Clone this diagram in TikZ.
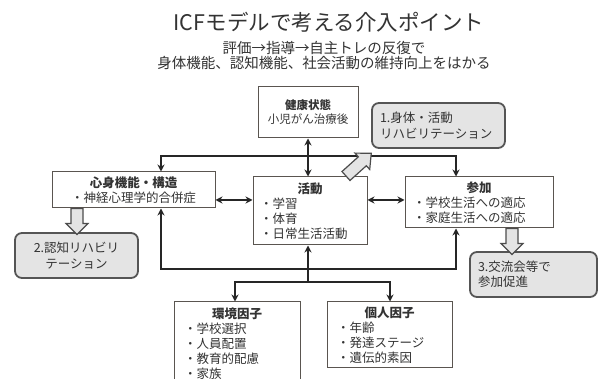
\documentclass[tikz,border=0pt]{standalone}
\usepackage{fontspec}
\setmainfont{Noto Sans CJK JP}
\usetikzlibrary{arrows.meta}
\definecolor{txt}{HTML}{333333}
\definecolor{boxc}{HTML}{5A5550}
\definecolor{rbc}{HTML}{555555}
\definecolor{rbf}{HTML}{E4E4E4}
\tikzset{
  box/.style={draw=boxc, line width=1pt, fill=white, text=txt, inner sep=0pt,
    font=\fontsize{12.5}{15}\selectfont},
  rbox/.style={draw=rbc, line width=1.8pt, fill=rbf, rounded corners=7pt, text=txt,
    inner sep=0pt, font=\fontsize{12.5}{15.5}\selectfont},
  conn/.style={line width=1.7pt, draw=black!85},
  tip/.tip={Stealth[length=7pt,width=7pt]},
  harrowA/.pic={\draw[fill=rbf, draw=black!70, line width=1.2pt]
    (0,-6) -- (15,-6) -- (15,-11) -- (26,0) -- (15,11) -- (15,6) -- (0,6) -- cycle;},
  harrowB/.pic={\draw[fill=rbf, draw=black!70, line width=1.2pt]
    (0,-6) -- (22,-6) -- (22,-11) -- (34,0) -- (22,11) -- (22,6) -- (0,6) -- cycle;}
}
\begin{document}
\begin{tikzpicture}[x=1pt,y=-1pt]
\useasboundingbox[fill=white] (0,0) rectangle (598,379);
% titles
\node[text=txt, font=\fontsize{21.5}{21.5}\selectfont] (title) at (329,22) {ICFモデルで考える介入ポイント};
\node[text=txt, align=center, font=\fontsize{14.5}{15}\selectfont] (sub) at (324,56)
  {評価→指導→自主トレの反復で\\身体機能、認知機能、社会活動の維持向上をはかる};
% ICF boxes
\node[box, minimum width=100pt, minimum height=51pt, align=center,
  font=\fontsize{11.5}{14}\selectfont] (hc) at (308,112.5)
  {\textbf{健康状態}\\小児がん治療後};
\node[box, minimum width=163pt, minimum height=36pt, align=center] (mind) at (133.5,190)
  {\textbf{心身機能・構造}\\・神経心理学的合併症};
\node[box, minimum width=114pt, minimum height=68pt, text width=100pt, align=left] (act) at (310,211)
  {\makebox[\linewidth][c]{\textbf{活動}}\\・学習\\・体育\\・日常生活活動};
\node[box, minimum width=148pt, minimum height=51pt, text width=132pt, align=left] (part) at (479,202.5)
  {\makebox[\linewidth][c]{\textbf{参加}}\\・学校生活への適応\\・家庭生活への適応};
\node[box, minimum width=126pt, minimum height=83pt, text width=106pt, align=left] (env) at (237,343.5)
  {\makebox[\linewidth][c]{\textbf{環境因子}}\\・学校選択\\・人員配置\\・教育的配慮\\・家族};
\node[box, minimum width=125pt, minimum height=66pt, text width=105pt, align=left] (pers) at (389.5,335)
  {\makebox[\linewidth][c]{\textbf{個人因子}}\\・年齢\\・発達ステージ\\・遺伝的素因};
% rehab boxes
\node[rbox, minimum width=133pt, minimum height=45pt, text width=117pt, align=left] (r1) at (438.5,125.5)
  {1.身体・活動\\リハビリテーション};
\node[rbox, minimum width=123pt, minimum height=45pt, align=center] (r2) at (76.5,255.5)
  {2.認知リハビリ\\テーション};
\node[rbox, minimum width=127pt, minimum height=45pt, text width=111pt, align=left] (r3) at (533.5,274.5)
  {3.交流会等で\\参加促進};
% connector coordinates
\coordinate (tl) at (161,156);
\coordinate (tr) at (456,156);
\coordinate (bl) at (161,269);
\coordinate (br) at (456,269);
\coordinate (bm) at (308,282);
\coordinate (be) at (235,282);
\coordinate (bp) at (390,282);
\coordinate (y200) at (0,200);
% connectors
\draw[conn, tip-tip] (mind.north -| tl) -- (tl) -- (tr) -- (part.north -| tr);
\draw[conn, tip-tip] (hc.south) -- (hc.south |- act.north);
\draw[conn, tip-tip] (mind.east |- y200) -- (act.west |- y200);
\draw[conn, tip-tip] (act.east |- y200) -- (part.west |- y200);
\draw[conn, tip-tip] (mind.south -| bl) -- (bl) -- (br) -- (part.south -| br);
\draw[conn, -tip] (bm) -- (act.south -| bm);
\draw[conn, tip-tip] (env.north -| be) -- (be) -- (bp) -- (pers.north -| bp);
% hollow arrows
\pic[rotate=42] at (346,176) {harrowB};
\pic[rotate=-90] at (77,208.5) {harrowA};
\pic[rotate=-90] at (512,228.5) {harrowA};
\end{tikzpicture}
\end{document}
